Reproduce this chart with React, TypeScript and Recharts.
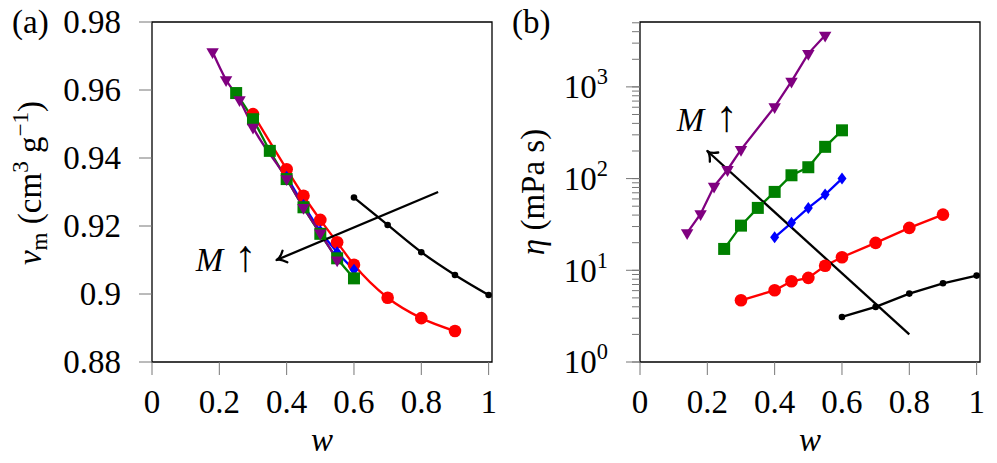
import React from 'react';
import { LineChart, Line, XAxis, YAxis, ReferenceLine, ReferenceArea } from 'recharts';

const FONT = '"Liberation Serif", "DejaVu Serif", serif';
const FS = 33;
const TICK = '#777';

// w values (mass fraction) per series
const wBlack = [0.6, 0.7, 0.8, 0.9, 1.0];
const wRed = [0.3, 0.4, 0.45, 0.5, 0.55, 0.6, 0.7, 0.8, 0.9];
const wBlue = [0.4, 0.45, 0.5, 0.55, 0.6];
const wGreen = [0.25, 0.3, 0.35, 0.4, 0.45, 0.5, 0.55, 0.6];
const wPurple = [0.14, 0.18, 0.22, 0.26, 0.3, 0.4, 0.45, 0.5, 0.55];

// (a) specific volume v_m
const vmBlack = [0.9284, 0.9203, 0.9123, 0.9056, 0.8997];
const vmRed = [0.9529, 0.9367, 0.9289, 0.9218, 0.9152, 0.9086, 0.8989, 0.8929, 0.8891];
const vmBlue = [0.9345, 0.9262, 0.9185, 0.9123, 0.9071];
const vmGreen = [0.9591, 0.9514, 0.9421, 0.9338, 0.9255, 0.9177, 0.9105, 0.9046];
const vmPurple = [null, 0.9712, 0.963, 0.9571, 0.949, 0.9339, 0.9254, 0.9179, 0.91];

// (b) viscosity eta
const etaBlack = [3.1, 3.99, 5.57, 7.21, 8.75];
const etaRed = [4.71, 6.05, 7.59, 8.26, 11.2, 13.9, 19.9, 29.0, 40.5];
const etaBlue = [22.9, 32.9, 47.9, 66.9, 100];
const etaGreen = [17.1, 30.7, 47.9, 71.6, 108.7, 133, 222, 336];
const etaPurple = [25.6, 41.2, 82.4, 125, 207, 605, 1150, 2307, 3655];

// axes
const xTicks = [0, 0.2, 0.4, 0.6, 0.8, 1];
const xDomain = [0, 1.01];
const vmTicks = [0.88, 0.9, 0.92, 0.94, 0.96, 0.98];
const vmDomain = [0.88, 0.98];
const etaTicks = [
  1, 2, 3, 4, 5, 6, 7, 8, 9,
  10, 20, 30, 40, 50, 60, 70, 80, 90,
  100, 200, 300, 400, 500, 600, 700, 800, 900,
  1000, 2000, 3000, 4000, 5000,
];
const etaDomain = [1, 5100];

// "M increases" arrows, [start, end]
const arrowA = [{ x: 0.85, y: 0.93 }, { x: 0.37, y: 0.91 }];
const arrowB = [{ x: 0.8, y: 2 }, { x: 0.2, y: 200 }];

const rows = (ws: number[], ys: (number | null)[]) =>
  ws.map((w, i) => ({ w, y: ys[i] })).filter((r) => r.y != null);

const circle = (r: number, color: string) => (p: any) =>
  <circle key={`c${p.index}`} cx={p.cx} cy={p.cy} r={r} fill={color} />;

const square = (s: number, color: string) => (p: any) =>
  <rect key={`s${p.index}`} x={p.cx - s / 2} y={p.cy - s / 2} width={s} height={s} fill={color} />;

const diamond = (w: number, h: number, color: string) => (p: any) =>
  <path key={`d${p.index}`} d={`M${p.cx},${p.cy - h / 2}L${p.cx + w / 2},${p.cy}L${p.cx},${p.cy + h / 2}L${p.cx - w / 2},${p.cy}Z`} fill={color} />;

const triDown = (r: number, color: string) => (p: any) =>
  <path key={`t${p.index}`} d={`M${p.cx},${p.cy + r}L${p.cx - r * 0.866},${p.cy - r / 2}L${p.cx + r * 0.866},${p.cy - r / 2}Z`} fill={color} />;

const series = [
  { key: 'black', color: '#000', w: wBlack, vm: vmBlack, eta: etaBlack, dot: circle(3.3, '#000') },
  { key: 'red', color: '#ff0000', w: wRed, vm: vmRed, eta: etaRed, dot: circle(6.3, '#ff0000') },
  { key: 'blue', color: '#0000ff', w: wBlue, vm: vmBlue, eta: etaBlue, dot: diamond(9, 12, '#0000ff') },
  { key: 'green', color: '#008000', w: wGreen, vm: vmGreen, eta: etaGreen, dot: square(12, '#008000') },
  { key: 'purple', color: '#800080', w: wPurple, vm: vmPurple, eta: etaPurple, dot: triDown(7.2, '#800080') },
];

const XTick = (p: any) => (
  <text x={p.x} y={p.y} dy={FS * 0.7} textAnchor="middle" fontFamily={FONT} fontSize={FS} fill="#000">
    {String(p.payload.value)}
  </text>
);

const VmTick = (p: any) => (
  <text x={p.x} y={p.y} dy="0.34em" textAnchor="end" fontFamily={FONT} fontSize={FS} fill="#000">
    {String(p.payload.value)}
  </text>
);

const LOG_TS = 8;
const LOG_TM = 24;
const EtaTick = (p: any) => {
  const v = p.payload.value;
  const exp = Math.round(Math.log10(v));
  if (Math.abs(Math.log10(v) - exp) > 1e-6) return <g />;
  const ax = p.x + LOG_TS + LOG_TM;
  return (
    <g>
      <line x1={ax - 14} x2={ax} y1={p.y} y2={p.y} stroke={TICK} strokeWidth={1} />
      <text x={p.x} y={p.y} dy="0.34em" textAnchor="end" fontFamily={FONT} fontSize={FS} fill="#000">
        10<tspan fontSize={FS * 0.68} dy="-0.62em">{exp}</tspan>
      </text>
    </g>
  );
};

const mLabel = (
  <>
    <tspan fontStyle="italic">M</tspan>
    <tspan fontSize={FS * 1.35}> ↑</tspan>
  </>
);

const arrowShape = (labelPos: 'left' | 'above') => (p: any) => {
  const { x1, y1, x2, y2 } = p;
  const ang = Math.atan2(y2 - y1, x2 - x1);
  const L = 11;
  const sp = 0.6;
  const b1x = x2 - L * Math.cos(ang - sp);
  const b1y = y2 - L * Math.sin(ang - sp);
  const b2x = x2 - L * Math.cos(ang + sp);
  const b2y = y2 - L * Math.sin(ang + sp);
  const cx = x2 - L * 0.35 * Math.cos(ang);
  const cy = y2 - L * 0.35 * Math.sin(ang);
  return (
    <g>
      <line x1={x1} y1={y1} x2={x2} y2={y2} stroke="#000" strokeWidth={2.3} />
      <path
        d={`M${b1x},${b1y}Q${cx},${cy} ${x2},${y2}Q${cx},${cy} ${b2x},${b2y}`}
        fill="none" stroke="#000" strokeWidth={2.3} strokeLinecap="round" strokeLinejoin="round"
      />
      {labelPos === 'left' ? (
        <text x={x2 - 20} y={y2} dy="0.34em" textAnchor="end" fontFamily={FONT} fontSize={FS} fill="#000">
          {mLabel}
        </text>
      ) : (
        <text x={x2} y={y2 - 20} textAnchor="middle" fontFamily={FONT} fontSize={FS} fill="#000">
          {mLabel}
        </text>
      )}
    </g>
  );
};

const wTitle = (props: any) => {
  const vb = props.viewBox;
  return (
    <text x={vb.x + vb.width / 2} y={vb.y + 89} textAnchor="middle" fontFamily={FONT} fontSize={FS} fontStyle="italic" fill="#000">
      w
    </text>
  );
};

const vmTitle = (props: any) => {
  const vb = props.viewBox;
  const x = vb.x + 41;
  const y = vb.y + vb.height / 2 - 9;
  return (
    <text x={x} y={y} transform={`rotate(-90, ${x}, ${y})`} textAnchor="middle" fontFamily={FONT} fontSize={FS} fill="#000">
      <tspan fontStyle="italic">v</tspan>
      <tspan fontSize={FS * 0.7} baselineShift="-0.25em">m</tspan>
      <tspan> (cm</tspan>
      <tspan fontSize={FS * 0.7} baselineShift="0.55em">3</tspan>
      <tspan> g</tspan>
      <tspan fontSize={FS * 0.7} baselineShift="0.55em">−1</tspan>
      <tspan>)</tspan>
    </text>
  );
};

const etaTitle = (props: any) => {
  const vb = props.viewBox;
  const x = vb.x + 44;
  const y = vb.y + vb.height / 2;
  return (
    <text x={x} y={y} transform={`rotate(-90, ${x}, ${y})`} textAnchor="middle" fontFamily={FONT} fontSize={FS} fill="#000">
      <tspan fontStyle="italic">η</tspan>
      <tspan> (mPa s)</tspan>
    </text>
  );
};

const panelLabel = (text: string, left: number) => (
  <div
    style={{
      position: 'absolute', left, top: 0, fontFamily: FONT, fontSize: FS,
      lineHeight: `${FS}px`, paddingTop: 6, color: '#000',
    }}
  >
    {text}
  </div>
);

export default function App() {
  return (
    <div style={{ position: 'absolute', left: 0, top: 0, width: 997, height: 463, background: '#fff', overflow: 'hidden' }}>
      <div style={{ position: 'absolute', left: 0, top: 0 }}>
        <LineChart width={500} height={463} margin={{ top: 22, right: 8, bottom: 0, left: 0 }}>
          <XAxis
            dataKey="w" type="number" domain={xDomain} ticks={xTicks} interval={0} allowDataOverflow
            height={101} axisLine={false} stroke={TICK} tickSize={13} tickMargin={15} tick={XTick}
            label={{ content: wTitle }}
          />
          <YAxis
            type="number" domain={vmDomain} ticks={vmTicks} interval={0} allowDataOverflow
            width={152} axisLine={false} stroke={TICK} tickSize={13} tickMargin={18} tick={VmTick}
            label={{ content: vmTitle }}
          />
          <ReferenceArea x1={xDomain[0]} x2={xDomain[1]} y1={vmDomain[0]} y2={vmDomain[1]} fill="none" stroke="#000" strokeWidth={1.3} />
          {series.map((s) => (
            <Line
              key={s.key} data={rows(s.w, s.vm)} dataKey="y" type="monotone" stroke={s.color}
              strokeWidth={2.3} dot={s.dot} activeDot={false} isAnimationActive={false}
            />
          ))}
          <ReferenceLine segment={arrowA} shape={arrowShape('left')} />
        </LineChart>
      </div>
      <div style={{ position: 'absolute', left: 500, top: 0 }}>
        <LineChart width={497} height={463} margin={{ top: 22, right: 17, bottom: 0, left: 0 }}>
          <XAxis
            dataKey="w" type="number" domain={xDomain} ticks={xTicks} interval={0} allowDataOverflow
            height={101} axisLine={false} stroke={TICK} tickSize={13} tickMargin={15} tick={XTick}
            label={{ content: wTitle }}
          />
          <YAxis
            type="number" scale="log" domain={etaDomain} ticks={etaTicks} interval={0} allowDataOverflow
            width={140} axisLine={false} stroke={TICK} tickSize={LOG_TS} tickMargin={LOG_TM} tick={EtaTick}
            label={{ content: etaTitle }}
          />
          <ReferenceArea x1={xDomain[0]} x2={xDomain[1]} y1={etaDomain[0]} y2={etaDomain[1]} fill="none" stroke="#000" strokeWidth={1.3} />
          {series.map((s) => (
            <Line
              key={s.key} data={rows(s.w, s.eta)} dataKey="y" type="linear" stroke={s.color}
              strokeWidth={2.3} dot={s.dot} activeDot={false} isAnimationActive={false}
            />
          ))}
          <ReferenceLine segment={arrowB} shape={arrowShape('above')} />
        </LineChart>
      </div>
      {panelLabel('(a)', 12)}
      {panelLabel('(b)', 512)}
    </div>
  );
}
